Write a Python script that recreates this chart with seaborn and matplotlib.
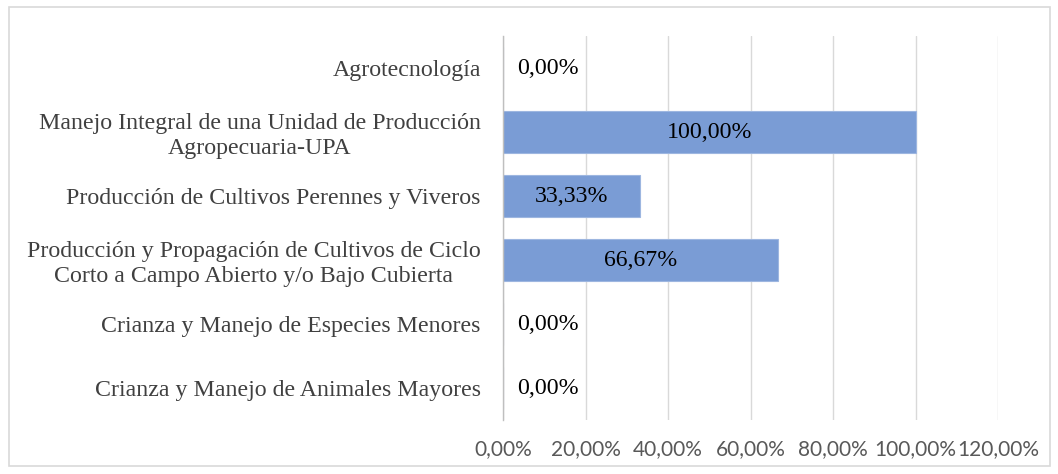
import matplotlib
matplotlib.use("Agg")
import matplotlib.pyplot as plt
import seaborn as sns
import pandas as pd
from matplotlib.ticker import FuncFormatter
from matplotlib.patches import Rectangle

categories = [
    "Agrotecnología",
    "Manejo Integral de una Unidad de Producción\nAgropecuaria-UPA",
    "Producción de Cultivos Perennes y Viveros",
    "Producción y Propagación de Cultivos de Ciclo\nCorto a Campo Abierto y/o Bajo Cubierta",
    "Crianza y Manejo de Especies Menores",
    "Crianza y Manejo de Animales Mayores",
]
values = [0.0, 100.0, 33.33, 66.67, 0.0, 0.0]
xticks = [0, 20, 40, 60, 80, 100, 120]

sns.set_theme(style="white")
plt.rcParams["font.family"] = ["Liberation Serif", "DejaVu Serif"]

df = pd.DataFrame({"cat": categories, "val": values})

fig = plt.figure(figsize=(10.58, 4.74), dpi=100)
ax = fig.add_axes([503 / 1058, 1 - 420 / 474, (998 - 503) / 1058, 384 / 474])

sns.barplot(data=df, x="val", y="cat", orient="h", color="#7A9CD5",
            saturation=1, width=0.67, ax=ax, edgecolor="#9DB6E0", linewidth=0.8)

ax.set_xlim(0, 120)
ax.set_xticks(xticks)
ax.xaxis.set_major_formatter(FuncFormatter(lambda v, p: f"{v:.2f}%".replace(".", ",")))
ax.grid(axis="x", color="#D9D9D9", linewidth=1)
ax.set_axisbelow(True)
for s in ["top", "right", "bottom"]:
    ax.spines[s].set_visible(False)
ax.spines["left"].set_color("#BFBFBF")
ax.spines["left"].set_linewidth(1)
ax.set_xlabel("")
ax.set_ylabel("")
ax.tick_params(axis="x", length=0, pad=14, labelcolor="#595959")
ax.tick_params(axis="y", length=0, pad=16, labelcolor="#404040")
for lbl in ax.get_xticklabels():
    lbl.set_fontfamily(["Lato", "DejaVu Sans"])
    lbl.set_fontsize(15)
for lbl in ax.get_yticklabels():
    lbl.set_fontsize(17.2)
    lbl.set_multialignment("center")

for i, v in enumerate(values):
    txt = f"{v:.2f}%".replace(".", ",")
    if v > 0:
        ax.text(v / 2, i, txt, ha="center", va="center", fontsize=17.2, color="black")
    else:
        ax.annotate(txt, (0, i), xytext=(10, 0), textcoords="offset points",
                    ha="left", va="center", fontsize=17.2, color="black")

fig.patches.append(Rectangle((9 / 1058, 1 - 466 / 474), (1050 - 9) / 1058, (466 - 7) / 474,
                             transform=fig.transFigure, fill=False,
                             edgecolor="#D9D9D9", linewidth=1.2))

fig.savefig("out.png", dpi=100)
